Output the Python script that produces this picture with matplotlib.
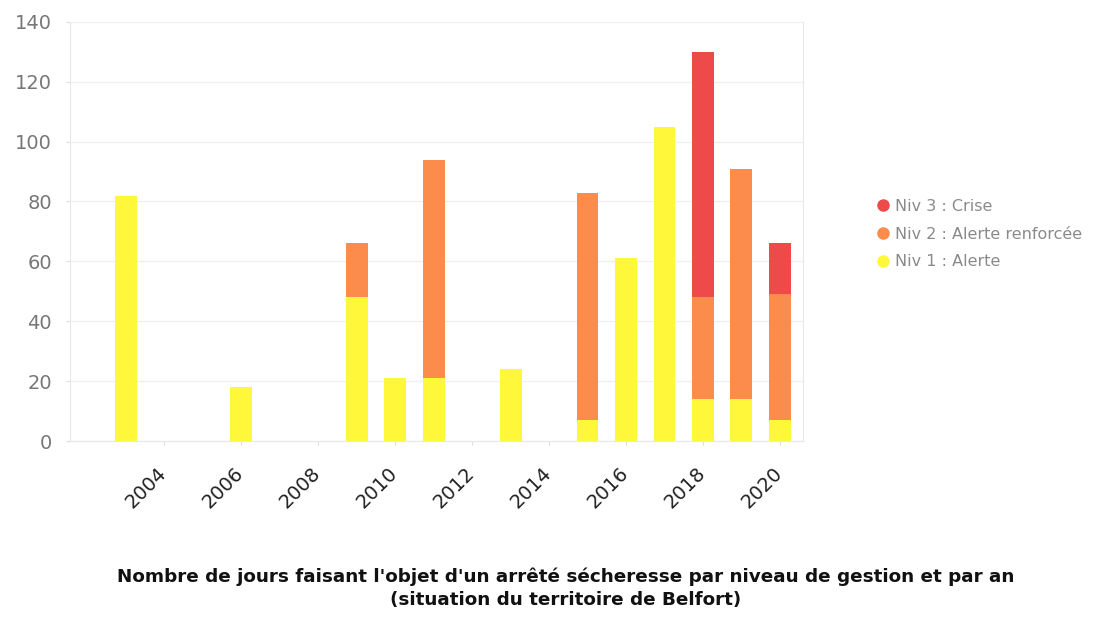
import numpy as np
import matplotlib
matplotlib.use("Agg")
import matplotlib.pyplot as plt
import matplotlib.transforms as mtransforms
from matplotlib.lines import Line2D

# Jours d'arrêté sécheresse par niveau et par année
annees = [2003, 2006, 2009, 2010, 2011, 2013, 2015, 2016, 2017, 2018, 2019, 2020]
niv1 = [82, 18, 48, 21, 21, 24, 7, 61, 105, 14, 14, 7]
niv2 = [0, 0, 18, 0, 73, 0, 76, 0, 0, 34, 77, 42]
niv3 = [0, 0, 0, 0, 0, 0, 0, 0, 0, 82, 0, 17]

ticks_annees = [2004, 2006, 2008, 2010, 2012, 2014, 2016, 2018, 2020]
legende = ["Niv 3 : Crise", "Niv 2 : Alerte renforcée", "Niv 1 : Alerte"]

c_jaune = "#fff73a"
c_orange = "#fb8c4c"
c_rouge = "#ef4a4a"

fig = plt.figure(figsize=(10.94, 6.23), dpi=100)
ax = fig.add_axes([0.064, 0.292, 0.670, 0.673])

x = np.array(annees)
b1 = np.array(niv1)
b2 = np.array(niv2)
b3 = np.array(niv3)
larg = 0.57
ax.bar(x, b1, width=larg, color=c_jaune, zorder=3)
ax.bar(x, b2, width=larg, bottom=b1, color=c_orange, zorder=3)
ax.bar(x, b3, width=larg, bottom=b1 + b2, color=c_rouge, zorder=3)

ax.set_xlim(2001.55, 2020.6)
ax.set_ylim(0, 140)
ax.set_yticks(range(0, 141, 20))
ax.set_xticks(ticks_annees)
ax.set_xticklabels([str(a) for a in ticks_annees], rotation=45, ha="right",
                   rotation_mode="anchor", fontsize=14, color="#222222")
ax.tick_params(axis="y", labelsize=14, labelcolor="#777777", length=3,
               color="#dddddd", pad=10)
ax.tick_params(axis="x", length=3, color="#dddddd", pad=13)

# décale les années un peu vers la gauche
decalage = mtransforms.ScaledTranslation(-7 / 100, 0, fig.dpi_scale_trans)
for lab in ax.get_xticklabels():
    lab.set_transform(lab.get_transform() + decalage)

ax.grid(axis="y", color="#f0f0f0", linewidth=1, zorder=0)
for s in ["left", "right", "bottom"]:
    ax.spines[s].set_color("#e8e8e8")
ax.spines["top"].set_visible(False)

poignees = [Line2D([], [], marker="o", linestyle="", markersize=8, color=c)
            for c in [c_rouge, c_orange, c_jaune]]
fig.legend(poignees, legende, loc="upper left", bbox_to_anchor=(0.785, 0.704),
           frameon=False, fontsize=11.5, labelcolor="#8a8a8a",
           handletextpad=0.15, labelspacing=0.8, handlelength=1.2)

fig.text(0.517, 0.022,
         "Nombre de jours faisant l'objet d'un arrêté sécheresse par niveau de gestion et par an\n"
         "(situation du territoire de Belfort)",
         ha="center", va="bottom", fontsize=13.2, fontweight="bold",
         color="#111111", linespacing=1.35)

fig.savefig("out.png", dpi=100)
